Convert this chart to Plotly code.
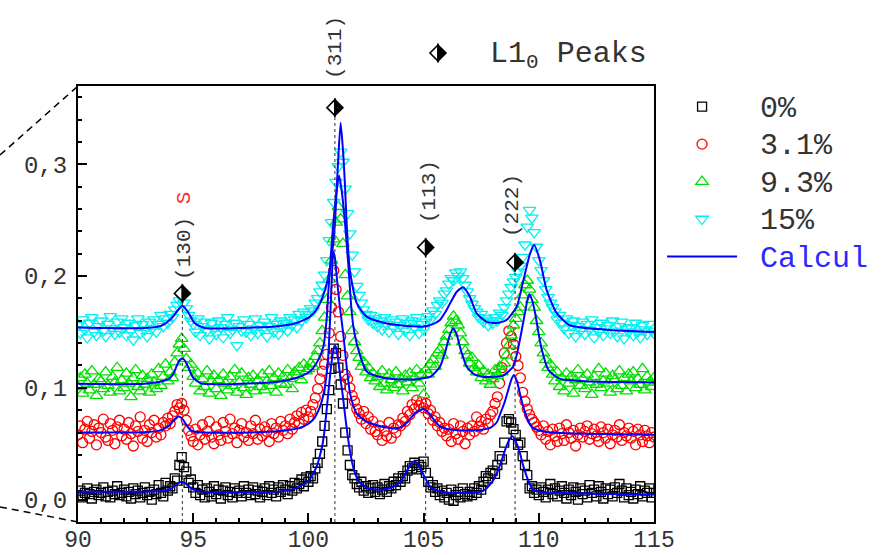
import plotly.graph_objects as go

# 2-theta sampling of the measured patterns (degrees)
TWO_THETA_START = 90.0
TWO_THETA_STEP = 0.1

# Measured intensities (offset per composition), one row per degree
INT_0 = [
    0.004, 0.008, 0.002, 0.006, 0.010, 0.005, 0.001, 0.007, 0.009, 0.004,
    0.006, 0.011, 0.003, 0.007, 0.002, 0.008, 0.005, 0.012, 0.004, 0.006,
    0.009, 0.003, 0.007, 0.001, 0.010, 0.005, 0.008, 0.002, 0.006, 0.011,
    0.004, 0.007, 0.000, 0.009, 0.005, 0.013, 0.006, 0.003, 0.015, 0.008,
    0.012, 0.010, 0.019, 0.017, 0.031, 0.038, 0.029, 0.025, 0.015, 0.018,
    0.011, 0.006, 0.013, 0.004, 0.009, 0.002, 0.010, 0.007, 0.003, 0.012,
    0.005, 0.009, 0.001, 0.008, 0.011, 0.004, 0.007, 0.002, 0.010, 0.006,
    0.008, 0.003, 0.012, 0.006, 0.009, 0.004, 0.011, 0.005, 0.008, 0.002,
    0.007, 0.010, 0.004, 0.012, 0.006, 0.009, 0.003, 0.011, 0.007, 0.013,
    0.009, 0.005, 0.012, 0.008, 0.015, 0.010, 0.014, 0.018, 0.012, 0.020,
    0.016, 0.021, 0.019, 0.028, 0.033, 0.041, 0.052, 0.066, 0.081, 0.098,
    0.117, 0.135, 0.131, 0.118, 0.103, 0.086, 0.060, 0.044, 0.031, 0.022,
    0.019, 0.014, 0.011, 0.016, 0.008, 0.012, 0.006, 0.010, 0.013, 0.007,
    0.011, 0.005, 0.009, 0.014, 0.007, 0.012, 0.010, 0.016, 0.013, 0.019,
    0.016, 0.021, 0.019, 0.026, 0.030, 0.028, 0.033, 0.027, 0.031, 0.029,
    0.034, 0.024, 0.016, 0.011, 0.013, 0.007, 0.010, 0.004, 0.008, 0.002,
    0.006, 0.000, 0.009, -0.001, 0.004, 0.007, 0.002, 0.010, 0.005, 0.003,
    0.007, 0.004, 0.010, 0.006, 0.012, 0.009, 0.016, 0.021, 0.019, 0.024,
    0.026, 0.023, 0.031, 0.039, 0.036, 0.051, 0.070, 0.072, 0.069, 0.063,
    0.058, 0.049, 0.051, 0.039, 0.031, 0.022, 0.010, 0.012, 0.006, 0.009,
    0.004, 0.011, 0.007, 0.002, 0.009, 0.014, 0.005, 0.010, 0.003, 0.008,
    0.012, 0.006, 0.001, 0.009, 0.004, 0.011, 0.007, 0.000, 0.010, 0.005,
    0.008, 0.002, 0.013, 0.006, 0.009, 0.003, 0.012, 0.007, 0.001, 0.010,
    0.005, 0.009, 0.003, 0.011, 0.006, 0.014, 0.008, 0.002, 0.010, 0.004,
    0.007, 0.001, 0.009, 0.005, 0.012, 0.003, 0.008, 0.006, 0.010, 0.002,
    0.006,
]

INT_3_1 = [
    0.058, 0.066, 0.051, 0.063, 0.070, 0.055, 0.061, 0.067, 0.049, 0.064,
    0.060, 0.072, 0.056, 0.053, 0.068, 0.062, 0.050, 0.065, 0.071, 0.057,
    0.063, 0.054, 0.069, 0.059, 0.048, 0.066, 0.061, 0.074, 0.055, 0.062,
    0.052, 0.067, 0.060, 0.071, 0.056, 0.064, 0.058, 0.069, 0.066, 0.073,
    0.068, 0.075, 0.079, 0.085, 0.082, 0.086, 0.080, 0.071, 0.062, 0.057,
    0.052, 0.063, 0.049, 0.058, 0.067, 0.054, 0.061, 0.070, 0.056, 0.050,
    0.065, 0.058, 0.053, 0.069, 0.061, 0.055, 0.072, 0.059, 0.064, 0.051,
    0.062, 0.068, 0.056, 0.060, 0.053, 0.066, 0.059, 0.071, 0.054, 0.063,
    0.057, 0.065, 0.061, 0.052, 0.068, 0.059, 0.064, 0.056, 0.070, 0.062,
    0.066, 0.059, 0.072, 0.063, 0.069, 0.075, 0.068, 0.078, 0.072, 0.080,
    0.074, 0.079, 0.085, 0.091, 0.099, 0.108, 0.115, 0.121, 0.130, 0.149,
    0.172, 0.205, 0.188, 0.168, 0.146, 0.129, 0.112, 0.108, 0.100, 0.093,
    0.088, 0.081, 0.077, 0.072, 0.079, 0.068, 0.074, 0.063, 0.070, 0.061,
    0.058, 0.066, 0.053, 0.062, 0.057, 0.069, 0.055, 0.064, 0.060, 0.067,
    0.066, 0.073, 0.070, 0.079, 0.076, 0.085, 0.081, 0.089, 0.084, 0.087,
    0.082, 0.086, 0.077, 0.080, 0.071, 0.074, 0.066, 0.069, 0.061, 0.064,
    0.057, 0.063, 0.052, 0.068, 0.059, 0.054, 0.066, 0.061, 0.050, 0.064,
    0.058, 0.066, 0.061, 0.074, 0.065, 0.070, 0.063, 0.072, 0.068, 0.076,
    0.079, 0.086, 0.092, 0.104, 0.118, 0.131, 0.140, 0.151, 0.146, 0.139,
    0.128, 0.120, 0.109, 0.096, 0.088, 0.081, 0.076, 0.072, 0.069, 0.065,
    0.062, 0.058, 0.066, 0.054, 0.061, 0.049, 0.063, 0.057, 0.052, 0.064,
    0.059, 0.053, 0.067, 0.060, 0.055, 0.062, 0.048, 0.058, 0.064, 0.056,
    0.061, 0.066, 0.054, 0.059, 0.063, 0.057, 0.052, 0.065, 0.060, 0.055,
    0.063, 0.050, 0.058, 0.062, 0.056, 0.067, 0.053, 0.060, 0.057, 0.064,
    0.055, 0.061, 0.049, 0.063, 0.058, 0.052, 0.062, 0.057, 0.051, 0.060,
    0.056,
]

INT_9_3 = [
    0.101, 0.109, 0.095, 0.112, 0.104, 0.098, 0.115, 0.103, 0.093, 0.108,
    0.106, 0.099, 0.114, 0.102, 0.096, 0.110, 0.105, 0.118, 0.097, 0.107,
    0.100, 0.113, 0.104, 0.092, 0.109, 0.116, 0.101, 0.097, 0.111, 0.103,
    0.108, 0.096, 0.112, 0.105, 0.099, 0.117, 0.102, 0.110, 0.121, 0.106,
    0.114, 0.109, 0.123, 0.131, 0.139, 0.144, 0.135, 0.126, 0.118, 0.121,
    0.110, 0.104, 0.113, 0.097, 0.108, 0.101, 0.115, 0.095, 0.106, 0.111,
    0.099, 0.107, 0.093, 0.112, 0.104, 0.098, 0.110, 0.102, 0.116, 0.096,
    0.105, 0.113, 0.100, 0.094, 0.109, 0.103, 0.111, 0.097, 0.107, 0.101,
    0.112, 0.098, 0.106, 0.115, 0.102, 0.109, 0.096, 0.113, 0.104, 0.110,
    0.103, 0.116, 0.108, 0.099, 0.114, 0.111, 0.118, 0.107, 0.121, 0.115,
    0.117, 0.122, 0.119, 0.128, 0.133, 0.140, 0.151, 0.163, 0.179, 0.197,
    0.214, 0.233, 0.248, 0.262, 0.251, 0.229, 0.201, 0.182, 0.168, 0.151,
    0.141, 0.133, 0.127, 0.119, 0.123, 0.114, 0.118, 0.109, 0.113, 0.106,
    0.110, 0.101, 0.115, 0.104, 0.098, 0.112, 0.107, 0.100, 0.114, 0.103,
    0.108, 0.097, 0.111, 0.105, 0.113, 0.100, 0.109, 0.116, 0.104, 0.112,
    0.094, 0.116, 0.112, 0.121, 0.125, 0.119, 0.131, 0.134, 0.129, 0.141,
    0.146, 0.152, 0.158, 0.164, 0.160, 0.156, 0.149, 0.141, 0.133, 0.129,
    0.122, 0.127, 0.118, 0.114, 0.120, 0.109, 0.115, 0.106, 0.112, 0.103,
    0.108, 0.116, 0.111, 0.119, 0.114, 0.122, 0.129, 0.138, 0.147, 0.156,
    0.162, 0.168, 0.172, 0.183, 0.192, 0.196, 0.188, 0.179, 0.172, 0.160,
    0.150, 0.140, 0.131, 0.125, 0.118, 0.121, 0.112, 0.106, 0.114, 0.101,
    0.109, 0.097, 0.113, 0.104, 0.110, 0.095, 0.107, 0.116, 0.102, 0.108,
    0.099, 0.112, 0.105, 0.094, 0.110, 0.103, 0.117, 0.100, 0.106, 0.113,
    0.104, 0.096, 0.111, 0.107, 0.099, 0.115, 0.102, 0.109, 0.097, 0.112,
    0.106, 0.114, 0.100, 0.108, 0.103, 0.117, 0.098, 0.110, 0.105, 0.101,
    0.109,
]

INT_15 = [
    0.156, 0.149, 0.161, 0.152, 0.145, 0.158, 0.163, 0.150, 0.147, 0.155,
    0.160, 0.151, 0.146, 0.157, 0.164, 0.153, 0.148, 0.159, 0.150, 0.162,
    0.154, 0.147, 0.158, 0.151, 0.143, 0.156, 0.162, 0.149, 0.157, 0.152,
    0.146, 0.159, 0.153, 0.161, 0.150, 0.157, 0.165, 0.155, 0.162, 0.158,
    0.166, 0.163, 0.170, 0.174, 0.178, 0.181, 0.176, 0.171, 0.165, 0.160,
    0.157, 0.150, 0.162, 0.147, 0.155, 0.159, 0.151, 0.144, 0.158, 0.153,
    0.148, 0.160, 0.154, 0.145, 0.157, 0.163, 0.149, 0.152, 0.158, 0.138,
    0.155, 0.151, 0.161, 0.150, 0.157, 0.147, 0.153, 0.162, 0.149, 0.156,
    0.152, 0.159, 0.146, 0.155, 0.163, 0.150, 0.157, 0.148, 0.160, 0.154,
    0.158, 0.151, 0.163, 0.156, 0.161, 0.154, 0.166, 0.160, 0.168, 0.163,
    0.166, 0.171, 0.169, 0.176, 0.180, 0.186, 0.192, 0.201, 0.214, 0.232,
    0.248, 0.266, 0.284, 0.298, 0.311, 0.302, 0.278, 0.256, 0.238, 0.219,
    0.204, 0.191, 0.183, 0.176, 0.170, 0.166, 0.161, 0.165, 0.158, 0.162,
    0.155, 0.160, 0.152, 0.163, 0.157, 0.150, 0.161, 0.154, 0.159, 0.148,
    0.156, 0.162, 0.151, 0.158, 0.147, 0.160, 0.154, 0.163, 0.149, 0.157,
    0.152, 0.159, 0.164, 0.161, 0.169, 0.166, 0.174, 0.178, 0.176, 0.184,
    0.187, 0.193, 0.198, 0.196, 0.203, 0.200, 0.204, 0.198, 0.192, 0.186,
    0.180, 0.175, 0.171, 0.168, 0.163, 0.166, 0.159, 0.162, 0.156, 0.160,
    0.158, 0.163, 0.160, 0.167, 0.165, 0.172, 0.178, 0.184, 0.190, 0.195,
    0.199, 0.204, 0.209, 0.217, 0.228, 0.244, 0.259, 0.252, 0.239, 0.226,
    0.214, 0.205, 0.196, 0.188, 0.181, 0.176, 0.172, 0.168, 0.161, 0.165,
    0.158, 0.153, 0.162, 0.149, 0.156, 0.160, 0.146, 0.155, 0.151, 0.159,
    0.148, 0.157, 0.152, 0.161, 0.145, 0.154, 0.150, 0.158, 0.147, 0.153,
    0.156, 0.149, 0.160, 0.151, 0.146, 0.155, 0.159, 0.144, 0.153, 0.150,
    0.154, 0.147, 0.158, 0.150, 0.145, 0.156, 0.152, 0.148, 0.157, 0.151,
    0.149,
]

# Calculated profiles as (2-theta, intensity) knots
CALC_0 = [
    (90.0, 0.0070), (91.5, 0.0070), (93.0, 0.0072), (93.6, 0.0078), (94.0, 0.0095),
    (94.2, 0.0120), (94.35, 0.0148), (94.5, 0.0160), (94.65, 0.0148), (94.8, 0.0120),
    (95.0, 0.0092), (95.3, 0.0074), (96.0, 0.0066), (97.5, 0.0068), (98.8, 0.0074),
    (99.5, 0.0105), (100.0, 0.0170), (100.2, 0.0230), (100.4, 0.0320), (100.5, 0.0395),
    (100.6, 0.0480), (100.7, 0.0620), (100.8, 0.0820), (100.9, 0.1030), (101.0, 0.1220),
    (101.1, 0.1350), (101.15, 0.1380), (101.2, 0.1360), (101.3, 0.1240), (101.4, 0.1070),
    (101.5, 0.0920), (101.6, 0.0740), (101.7, 0.0580), (101.8, 0.0440), (101.9, 0.0330),
    (102.0, 0.0250), (102.2, 0.0160), (102.5, 0.0110), (103.0, 0.0090), (103.5, 0.0100),
    (103.8, 0.0130), (104.0, 0.0160), (104.2, 0.0230), (104.4, 0.0300), (104.55, 0.0340),
    (104.7, 0.0330), (104.9, 0.0260), (105.1, 0.0180), (105.3, 0.0110), (105.6, 0.0080),
    (106.0, 0.0065), (107.0, 0.0060), (107.6, 0.0080), (107.9, 0.0140), (108.1, 0.0200),
    (108.3, 0.0300), (108.45, 0.0390), (108.6, 0.0480), (108.75, 0.0545), (108.87, 0.0566),
    (109.0, 0.0520), (109.18, 0.0420), (109.3, 0.0320), (109.47, 0.0210), (109.6, 0.0140),
    (109.76, 0.0090), (110.2, 0.0065), (111.0, 0.0060), (112.0, 0.0055), (113.0, 0.0050),
    (114.0, 0.0047), (115.0, 0.0045),
]

CALC_3_1 = [
    (90.0, 0.0600), (92.0, 0.0600), (93.0, 0.0605), (93.6, 0.0620), (94.0, 0.0670),
    (94.2, 0.0720), (94.35, 0.0744), (94.5, 0.0730), (94.7, 0.0670), (94.9, 0.0620),
    (95.2, 0.0605), (96.5, 0.0598), (98.0, 0.0605), (98.8, 0.0615), (99.5, 0.0635),
    (99.8, 0.0655), (100.2, 0.0714), (100.5, 0.0830), (100.7, 0.0990), (100.85, 0.1250),
    (100.95, 0.1650), (101.02, 0.2000), (101.08, 0.2220), (101.15, 0.2160), (101.25, 0.1950),
    (101.37, 0.1720), (101.52, 0.1470), (101.66, 0.1190), (101.8, 0.0960), (101.95, 0.0840),
    (102.1, 0.0770), (102.5, 0.0700), (103.25, 0.0650), (103.9, 0.0640), (104.26, 0.0685),
    (104.5, 0.0745), (104.7, 0.0785), (104.99, 0.0810), (105.15, 0.0790), (105.3, 0.0755),
    (105.5, 0.0700), (105.71, 0.0655), (106.0, 0.0632), (106.5, 0.0620), (107.5, 0.0625),
    (107.9, 0.0645), (108.17, 0.0690), (108.35, 0.0780), (108.53, 0.0880), (108.7, 0.1000),
    (108.82, 0.1080), (108.92, 0.1116), (109.05, 0.1060), (109.18, 0.0950), (109.3, 0.0850),
    (109.47, 0.0740), (109.6, 0.0680), (109.76, 0.0640), (110.2, 0.0610), (110.8, 0.0598),
    (112.0, 0.0590), (113.5, 0.0585), (115.0, 0.0580),
]

CALC_9_3 = [
    (90.0, 0.1036), (92.9, 0.1036), (93.6, 0.1056), (93.98, 0.1086), (94.15, 0.1130),
    (94.27, 0.1190), (94.4, 0.1245), (94.53, 0.1265), (94.65, 0.1240), (94.77, 0.1190),
    (94.9, 0.1130), (95.0, 0.1090), (95.35, 0.1040), (97.0, 0.1036), (98.77, 0.1056),
    (99.49, 0.1090), (100.07, 0.1146), (100.43, 0.1250), (100.65, 0.1370), (100.79, 0.1610),
    (100.87, 0.1875), (100.97, 0.2170), (101.08, 0.2470), (101.23, 0.2770), (101.33, 0.2900),
    (101.44, 0.2770), (101.59, 0.2470), (101.73, 0.2110), (101.85, 0.1750), (101.95, 0.1550),
    (102.17, 0.1340), (102.53, 0.1146), (103.25, 0.1090), (104.0, 0.1075), (104.8, 0.1080),
    (105.3, 0.1100), (105.71, 0.1190), (105.95, 0.1330), (106.12, 0.1460), (106.28, 0.1530),
    (106.43, 0.1480), (106.6, 0.1350), (106.87, 0.1190), (107.2, 0.1120), (107.59, 0.1100),
    (108.1, 0.1100), (108.46, 0.1110), (108.7, 0.1150), (108.89, 0.1190), (109.05, 0.1300),
    (109.18, 0.1430), (109.3, 0.1560), (109.4, 0.1670), (109.5, 0.1780), (109.59, 0.1840),
    (109.7, 0.1790), (109.84, 0.1670), (109.98, 0.1500), (110.13, 0.1340), (110.42, 0.1160),
    (110.92, 0.1080), (112.0, 0.1060), (113.5, 0.1052), (115.0, 0.1047),
]

CALC_15 = [
    (90.0, 0.1539), (92.9, 0.1535), (93.6, 0.1554), (94.05, 0.1620), (94.34, 0.1696),
    (94.53, 0.1735), (94.77, 0.1680), (95.06, 0.1580), (95.5, 0.1535), (97.0, 0.1535),
    (98.77, 0.1554), (99.49, 0.1580), (100.07, 0.1637), (100.43, 0.1726), (100.72, 0.1875),
    (100.87, 0.2000), (101.01, 0.2170), (101.15, 0.2470), (101.22, 0.2750), (101.3, 0.3066),
    (101.4, 0.3372), (101.52, 0.3066), (101.59, 0.2800), (101.66, 0.2470), (101.8, 0.2050),
    (102.1, 0.1756), (102.53, 0.1637), (103.3, 0.1580), (103.98, 0.1560), (104.99, 0.1548),
    (105.4, 0.1570), (105.71, 0.1607), (105.95, 0.1680), (106.15, 0.1756), (106.44, 0.1860),
    (106.72, 0.1900), (107.01, 0.1815), (107.3, 0.1667), (107.74, 0.1590), (108.2, 0.1580),
    (108.6, 0.1607), (109.04, 0.1726), (109.33, 0.1960), (109.62, 0.2200), (109.8, 0.2277),
    (110.05, 0.2140), (110.34, 0.1875), (110.77, 0.1670), (111.35, 0.1560), (112.95, 0.1520),
    (115.0, 0.1500),
]

SERIES_NAMES = ["0%", "3.1%", "9.3%", "15%"]
CALC_NAME = "Calcul"

# L1_0 reflections: position, marker height, label
PEAK_POS = [94.53, 101.15, 105.09, 108.97]
PEAK_MARK_Y = [0.1845, 0.3506, 0.2256, 0.2122]
PEAK_LABELS = ["(130) <span style='color:#ff2a2a'>S</span>", "(311)", "(113)", "(222)"]

FONT = "Liberation Mono, Courier New, monospace"
TEXT_COLOR = "#333333"
MARKER_STYLES = [
    dict(symbol="square-open", color="#000000", size=9),
    dict(symbol="circle-open", color="#ff0000", size=10),
    dict(symbol="triangle-up-open", color="#00e000", size=11),
    dict(symbol="triangle-down-open", color="#00f0f0", size=11),
]
CURVE_COLOR = "#0000ff"

two_theta = [round(TWO_THETA_START + i * TWO_THETA_STEP, 2) for i in range(len(INT_0))]

fig = go.Figure()

for name, ys, st in zip(SERIES_NAMES, [INT_0, INT_3_1, INT_9_3, INT_15], MARKER_STYLES):
    fig.add_trace(go.Scatter(
        x=two_theta, y=ys, mode="markers",
        name="<span style='font-size:30px'>\u00a0" + name + "</span>",
        marker=dict(symbol=st["symbol"], size=st["size"], color=st["color"],
                    line=dict(width=1.3, color=st["color"])),
    ))

for i, calc in enumerate([CALC_0, CALC_3_1, CALC_9_3, CALC_15]):
    fig.add_trace(go.Scatter(
        x=[p[0] for p in calc], y=[p[1] for p in calc], mode="lines",
        name="<span style='font-size:30px;color:#2a2aff'>\u00a0" + CALC_NAME + "</span>",
        line=dict(color=CURVE_COLOR, width=2, shape="spline", smoothing=0.6),
        showlegend=(i == 0),
    ))

shapes = []
# dashed guides from the axis up to each reflection marker
for x, ym in zip(PEAK_POS, PEAK_MARK_Y):
    shapes.append(dict(type="line", xref="x", yref="y", x0=x, x1=x, y0=-0.02, y1=ym,
                       line=dict(color="#333333", width=1, dash="3px,3px"), layer="above"))


def half_diamond(xref, yref, xa, ya):
    common = dict(type="path", xref=xref, yref=yref, xsizemode="pixel", ysizemode="pixel",
                  xanchor=xa, yanchor=ya, layer="above")
    return [
        dict(path="M0,8 L-8,0 L0,-8 Z", fillcolor="white",
             line=dict(color="black", width=1.6), **common),
        dict(path="M0,8 L8,0 L0,-8 Z", fillcolor="black",
             line=dict(color="black", width=1.6), **common),
    ]


for x, ym in zip(PEAK_POS, PEAK_MARK_Y):
    shapes += half_diamond("x", "y", x, ym)

# key marker for the reflection symbol
shapes += half_diamond("paper", "paper", 0.625, 1.0757)

# zoom guide lines leading to the frame corners
shapes.append(dict(type="line", xref="paper", yref="paper", x0=-0.1354, y0=0.8417, x1=0, y1=1,
                   line=dict(color="black", width=1.5, dash="7px,5px")))
shapes.append(dict(type="line", xref="paper", yref="paper", x0=-0.1354, y0=0.0344, x1=0, y1=0,
                   line=dict(color="black", width=1.5, dash="7px,5px")))

# reflection labels (paper-referenced heights so labels above the frame stay visible)
annotations = []
LABEL_X = [94.64, 101.15, 105.28, 108.88]
LABEL_Y = [0.656, 1.0894, 0.7569, 0.7248]
for lx, ly, txt in zip(LABEL_X, LABEL_Y, PEAK_LABELS):
    annotations.append(dict(x=lx, y=ly, xref="x", yref="paper", text=txt, showarrow=False,
                            textangle=-90, font=dict(family=FONT, size=21, color=TEXT_COLOR),
                            xanchor="center", yanchor="middle"))

annotations.append(dict(x=0.7118, y=1.069, xref="paper", yref="paper",
                        text="L1<sub>0</sub> Peaks", showarrow=False,
                        xanchor="left", yanchor="middle",
                        font=dict(family=FONT, size=30, color=TEXT_COLOR)))

axis_common = dict(
    showgrid=False, zeroline=False, showline=True, linecolor="black", linewidth=2,
    mirror=True, ticks="inside", ticklen=9, tickwidth=1.5, tickcolor="black",
    automargin=False,
)

fig.update_layout(
    width=888, height=555,
    margin=dict(l=78, r=234, t=86, b=33),
    paper_bgcolor="white", plot_bgcolor="white",
    separators=", ",
    font=dict(family=FONT, color=TEXT_COLOR),
    xaxis=dict(range=[90, 115], tick0=90, dtick=5, ticklabelstandoff=-5,
               tickfont=dict(family=FONT, size=23, color=TEXT_COLOR),
               minor=dict(dtick=1, ticks="inside", ticklen=4, tickwidth=1.5, tickcolor="black"),
               **axis_common),
    yaxis=dict(range=[-0.02, 0.37], tick0=0, dtick=0.1, tickformat=".1f", ticklabelstandoff=4,
               tickfont=dict(family=FONT, size=24, color=TEXT_COLOR),
               minor=dict(dtick=0.02, ticks="inside", ticklen=4, tickwidth=1.5, tickcolor="black"),
               **axis_common),
    legend=dict(x=1.014, y=1.007, xanchor="left", yanchor="top",
                font=dict(family=FONT, size=26.5, color=TEXT_COLOR),
                itemwidth=70, bgcolor="rgba(0,0,0,0)", borderwidth=0,
                traceorder="normal"),
    shapes=shapes,
    annotations=annotations,
)

fig.write_html("out.html")
